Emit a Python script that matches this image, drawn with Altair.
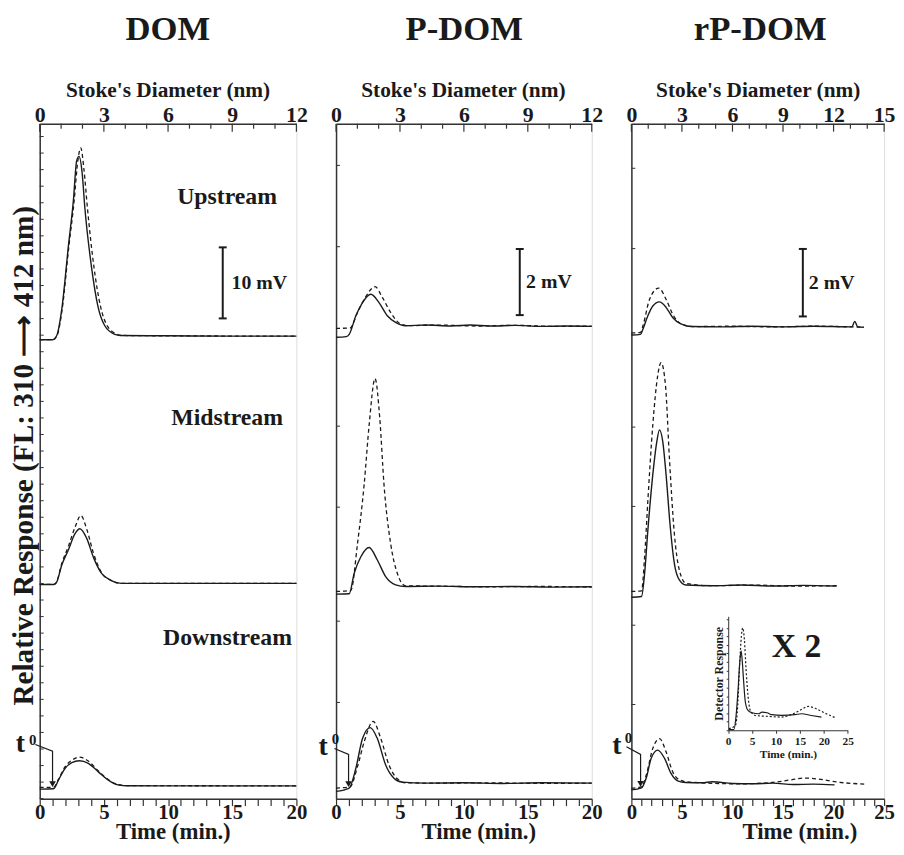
import altair as alt
import pandas as pd

FONT = "Liberation Serif"
INK = "#1a1a1a"
AXC = "#333333"
H = 681

# ---------------- data ----------------
PANEL_TITLES = ["DOM", "P-DOM", "rP-DOM"]
TIME_TICKS_20 = list(range(0, 21))
TIME_TICKS_25 = list(range(0, 26))
DIAM_TICKS_12 = list(range(0, 13))
DIAM_TICKS_15 = list(range(0, 16))
SITE_LABELS = ["Upstream", "Midstream", "Downstream"]
SITE_LABEL_POS = [(14.6, 84.7), (14.6, 53.6), (14.63, 22.6)]  # (time, mV) in DOM panel

# DOM (mV scale, panel y 0..95)
DOM_UP_SOLID = [(0, 64.6), (1.0, 64.6), (1.33, 65.2), (1.72, 68.9), (2.23, 77.7), (2.62, 84.1),
                (2.88, 89.8), (3.06, 90.4), (3.3, 88.2), (3.52, 83.1), (4.03, 74.9), (4.55, 69.2),
                (5.06, 66.6), (5.8, 65.4), (6.3, 65.2), (10, 65.15), (15, 65.1), (20, 65.1)]
DOM_UP_DASH = [(0, 64.6), (1.0, 64.6), (1.35, 65.2), (1.75, 68.9), (2.27, 77.7), (2.68, 84.1),
               (2.97, 89.8), (3.2, 91.6), (3.45, 88.5), (3.72, 83.1), (4.22, 74.9), (4.75, 69.2),
               (5.25, 66.6), (6.0, 65.4), (6.5, 65.2), (10, 65.15), (20, 65.1)]
DOM_MID_SOLID = [(0, 30.15), (1.1, 30.15), (1.3, 30.4), (1.72, 32.9), (2.23, 35.0), (2.75, 37.3),
                 (3.13, 38.0), (3.67, 36.6), (4.18, 34.0), (4.82, 31.7), (5.58, 30.7), (6.35, 30.3),
                 (12, 30.3), (20, 30.3)]
DOM_MID_DASH = [(0, 30.15), (1.1, 30.15), (1.3, 30.45), (1.72, 33.1), (2.23, 35.5), (2.75, 38.2),
                (3.21, 39.85), (3.67, 37.9), (4.18, 34.6), (4.82, 31.8), (5.58, 30.7), (6.35, 30.3),
                (20, 30.3)]
DOM_DOWN_SOLID = [(0, 1.35), (1.08, 1.4), (1.47, 2.65), (1.98, 4.28), (2.5, 5.07), (3.09, 5.34),
                  (3.78, 4.98), (4.55, 3.81), (5.32, 2.65), (6.09, 1.95), (6.86, 1.81), (12, 1.8),
                  (20, 1.8)]
DOM_DOWN_DASH = [(0, 1.58), (1.08, 1.6), (1.47, 2.75), (1.98, 4.5), (2.5, 5.4), (3.09, 5.86),
                 (3.78, 5.3), (4.55, 3.95), (5.32, 2.7), (6.09, 1.98), (6.86, 1.83), (12, 1.82),
                 (20, 1.8)]

# P-DOM (mV scale, panel y 0..20.4)
PDOM_UP_SOLID = [(0, 13.96), (0.8, 13.98), (1.03, 14.05), (1.55, 14.61), (2.07, 15.01), (2.72, 15.26),
                 (3.36, 15.01), (4.01, 14.61), (4.66, 14.41), (5.44, 14.31), (7, 14.33), (9, 14.3),
                 (10.5, 14.33), (12, 14.3), (14, 14.32), (16, 14.29), (18, 14.3), (20, 14.29)]
PDOM_UP_DASH = [(0, 14.23), (1.1, 14.24), (1.68, 14.71), (2.33, 15.19), (3.05, 15.49), (3.63, 15.16),
                (4.27, 14.71), (5.05, 14.36), (5.7, 14.31), (8, 14.33), (11, 14.3), (14, 14.32),
                (17, 14.29), (20, 14.3)]
PDOM_MID_SOLID = [(0, 6.19), (1.03, 6.2), (1.42, 6.82), (1.94, 7.32), (2.59, 7.6), (3.23, 7.22),
                  (3.88, 6.72), (4.66, 6.47), (5.44, 6.42), (8, 6.43), (11, 6.41), (14, 6.42),
                  (17, 6.4), (20, 6.41)]
PDOM_MID_DASH = [(0, 6.27), (1.16, 6.3), (1.68, 7.72), (2.2, 9.51), (2.59, 11.31), (3.05, 12.71),
                 (3.42, 11.51), (3.75, 9.51), (4.27, 7.72), (4.79, 6.82), (5.44, 6.44), (8, 6.43),
                 (12, 6.41), (16, 6.42), (20, 6.4)]
PDOM_DOWN_SOLID = [(0, 0.22), (1.03, 0.32), (1.55, 0.92), (2.07, 1.82), (2.67, 2.15), (3.23, 1.82),
                   (3.88, 1.02), (4.53, 0.62), (5.18, 0.5), (7, 0.47), (10, 0.48), (13, 0.46),
                   (16, 0.48), (20, 0.47)]
PDOM_DOWN_DASH = [(0, 0.32), (1.1, 0.36), (1.68, 0.97), (2.2, 1.72), (2.9, 2.34), (3.5, 1.82),
                  (4.14, 1.02), (4.79, 0.6), (5.44, 0.48), (8, 0.47), (12, 0.48), (16, 0.46),
                  (20, 0.47)]

# rP-DOM (mV scale, panel y 0..20)
RP_UP_SOLID = [(0, 13.74), (0.9, 13.76), (1.15, 13.92), (1.63, 14.31), (2.12, 14.6), (2.78, 14.72),
               (3.43, 14.56), (4.08, 14.26), (4.9, 14.07), (6.05, 13.99), (9, 13.98), (12, 14.0),
               (15, 13.98), (18, 14.0), (21.8, 13.98), (22.1, 14.14), (22.4, 13.98), (23, 13.97)]
RP_UP_DASH = [(0, 13.8), (0.9, 13.82), (1.15, 14.02), (1.8, 14.8), (2.7, 15.13), (3.43, 14.8),
              (4.08, 14.36), (4.9, 14.07), (6.05, 13.99), (10, 14.0), (14, 13.98), (18, 14.0),
              (23, 13.97)]
RP_MID_SOLID = [(0, 5.97), (1.0, 5.99), (1.31, 6.68), (1.63, 7.95), (2.12, 9.61), (2.52, 10.59),
                (2.78, 10.93), (3.1, 10.59), (3.43, 9.61), (3.82, 8.14), (4.25, 6.97), (4.74, 6.48),
                (5.39, 6.33), (8, 6.31), (11, 6.33), (14, 6.3), (17, 6.32), (20.3, 6.3)]
RP_MID_DASH = [(0, 6.14), (1.0, 6.16), (1.31, 7.17), (1.63, 8.83), (2.12, 11.08), (2.61, 12.55),
               (2.94, 12.92), (3.37, 12.26), (3.76, 10.1), (4.25, 7.85), (4.74, 6.78), (5.39, 6.38),
               (8, 6.31), (12, 6.33), (16, 6.3), (20.3, 6.31)]
RP_DOWN_SOLID = [(0, 0.26), (1.0, 0.32), (1.47, 0.61), (1.96, 1.2), (2.6, 1.44), (3.27, 1.2),
                 (3.92, 0.75), (4.58, 0.53), (5.39, 0.48), (7, 0.47), (8, 0.5), (10, 0.45),
                 (12, 0.44), (14, 0.46), (16, 0.42), (18, 0.43), (20.1, 0.41)]
RP_DOWN_DASH = [(0, 0.31), (1.0, 0.35), (1.47, 0.7), (2.12, 1.49), (2.78, 1.78), (3.43, 1.39),
                (4.08, 0.8), (4.74, 0.56), (5.72, 0.49), (10.6, 0.44), (13.9, 0.48), (15.85, 0.56),
                (17.16, 0.61), (18.46, 0.58), (20.42, 0.49), (23.04, 0.43)]

# inset of rP-DOM downstream (x2), arbitrary detector units 0..10
INSET_SOLID = [(0.13, 0.06), (1.17, 0.06), (1.65, 1.3), (2.07, 3.62), (2.41, 5.94), (2.69, 6.96),
               (2.96, 5.94), (3.24, 4.2), (3.59, 2.46), (4.14, 1.74), (4.98, 1.54), (6.36, 1.45),
               (7.05, 1.59), (8.1, 1.54), (9.13, 1.37), (11.2, 1.3), (13.95, 1.37), (15.33, 1.45),
               (17.4, 1.3), (19.5, 1.16)]
INSET_DOT = [(0.13, 0.14), (1.51, 0.43), (1.99, 2.17), (2.41, 5.94), (2.76, 8.26), (3.03, 8.98),
             (3.38, 7.97), (3.73, 5.37), (4.14, 3.04), (4.62, 1.74), (5.66, 1.3), (8.42, 1.22),
             (11.2, 1.16), (13.27, 1.39), (14.99, 1.74), (16.7, 2.09), (18.45, 1.88), (20.52, 1.45),
             (22.6, 1.07)]
INSET_TIME_TICKS = [0, 5, 10, 15, 20, 25]
INSET_Y_TICKS = [0, 0.75, 1.5, 2.25, 3, 3.75, 4.5, 5.25, 6, 6.75, 7.5, 8.25, 9, 9.75]

# y-axis minor ticks (mV) for P-DOM and rP-DOM panels
PDOM_YTICKS = [2.91, 5.37, 8.82, 11.27, 16.7, 19.16]
RP_YTICKS = [2.79, 5.14, 8.66, 11.01, 16.3, 18.68]

# scale bars: (time, bottom mV, top mV, label)
DOM_BAR = (14.26, 67.6, 77.6, "10 mV")
PDOM_BAR = (14.37, 14.63, 16.63, "2 mV")
RP_BAR = (16.96, 14.29, 16.29, "2 mV")

# t0 markers: t-letter pos, superscript pos, leader path, arrow tip (time, mV)
DOM_T0 = dict(t=(-1.5, 7.75), sup=(-0.55, 8.3), path=[(-0.34, 7.63), (1.0, 6.69), (1.0, 2.3)], head=(1.0, 2.05))
PDOM_T0 = dict(t=(-1.01, 1.56), sup=(-0.05, 1.8), path=[(-0.13, 1.52), (0.98, 1.34), (0.98, 0.5)], head=(0.98, 0.44))
RP_T0 = dict(t=(-1.44, 1.56), sup=(-0.3, 1.8), path=[(-0.49, 1.54), (0.91, 1.31), (0.91, 0.5)], head=(0.91, 0.44))

YTITLE = "Relative Response (FL: 310 \u27f6 412 nm)"


def trace_df(pairs, name, style):
    return pd.DataFrame({"t": [p[0] for p in pairs], "v": [p[1] for p in pairs],
                         "trace": name, "style": style})


def txt(**kw):
    base = dict(font=FONT, fontWeight="bold", color=INK)
    base.update(kw)
    return base


def build_panel(p):
    W = p["width"]
    xscale = alt.Scale(domain=[0, p["xmax"]], nice=False, zero=False)
    yscale = alt.Scale(domain=[0, p["ymax"]], nice=False, zero=False)
    xaxis = alt.Axis(orient="bottom", values=p["xticks"],
                     labelExpr="datum.value % 5 === 0 ? datum.label : ''",
                     tickSize=7, tickWidth=1.2, tickColor=AXC, domainColor=AXC, domainWidth=1.5,
                     labelFont=FONT, labelFontSize=21, labelFontWeight="bold", labelColor=INK,
                     labelBaseline="alphabetic", labelPadding=13, labelFlush=False,
                     labelOverlap=False, grid=False, title=None)
    yaxis = alt.Axis(orient="left", ticks=False, labels=False, domainColor=AXC, domainWidth=1.5,
                     grid=False, title=None)
    X = alt.X("t:Q", scale=xscale, axis=xaxis)
    Y = alt.Y("v:Q", scale=yscale, axis=yaxis)

    df = pd.concat([trace_df(pairs, name, style) for pairs, name, style in p["traces"]])
    solid = alt.Chart(df).transform_filter("datum.style === 'solid'").mark_line(
        color=INK, strokeWidth=1.4, interpolate="monotone").encode(x=X, y=Y, detail="trace:N")
    dashed = alt.Chart(df).transform_filter("datum.style === 'dashed'").mark_line(
        color=INK, strokeWidth=1.3, strokeDash=[4, 3], interpolate="monotone").encode(
        x=X, y=Y, detail="trace:N")

    if p["yticks"] is None:
        ytick_data = alt.sequence(0, p["ymax"], 2.33, as_="v")
    else:
        ytick_data = pd.DataFrame({"v": p["yticks"]})
    yticks = alt.Chart(ytick_data).mark_rule(color=AXC, strokeWidth=1).encode(
        y=Y, x=alt.value(0), x2=alt.value(4))

    bt, b0, b1, blab = p["bar"]
    bar_df = pd.DataFrame({"t": [bt], "v": [b0], "v2": [b1]})
    bar = alt.Chart(bar_df).mark_rule(color=INK, strokeWidth=2).encode(x=X, y=Y, y2="v2:Q")
    caps_df = pd.DataFrame({"t": [bt, bt], "v": [b0, b1]})
    caps = alt.Chart(caps_df).mark_rule(color=INK, strokeWidth=2, xOffset=-4, x2Offset=4).encode(
        x=X, x2="t:Q", y=Y)
    barlab = alt.Chart(pd.DataFrame({"t": [bt + p["barlab_dx"]], "v": [(b0 + b1) / 2], "s": [blab]})).mark_text(
        **txt(fontSize=20, align="left", baseline="middle")).encode(x=X, y=Y, text="s:N")

    t0 = p["t0"]
    t_letter = alt.Chart(pd.DataFrame({"t": [t0["t"][0]], "v": [t0["t"][1]], "s": ["t"]})).mark_text(
        **txt(fontSize=28, align="center", baseline="middle")).encode(x=X, y=Y, text="s:N")
    t_sup = alt.Chart(pd.DataFrame({"t": [t0["sup"][0]], "v": [t0["sup"][1]], "s": ["0"]})).mark_text(
        **txt(fontSize=15, align="center", baseline="middle")).encode(x=X, y=Y, text="s:N")
    path_df = pd.DataFrame({"t": [q[0] for q in t0["path"]], "v": [q[1] for q in t0["path"]],
                            "k": list(range(len(t0["path"])))})
    t_path = alt.Chart(path_df).mark_line(color=INK, strokeWidth=1.2).encode(x=X, y=Y, order="k:Q")
    t_head = alt.Chart(pd.DataFrame({"t": [t0["head"][0]], "v": [t0["head"][1]]})).mark_point(
        shape="triangle-down", filled=True, color=INK, size=45, opacity=1).encode(x=X, y=Y)

    title = alt.Chart(pd.DataFrame({"s": [p["title"]]})).mark_text(
        **txt(fontSize=35, align="center", baseline="middle")).encode(
        x=alt.value(p["title_x"]), y=alt.value(-96), text="s:N")
    stokes = alt.Chart(pd.DataFrame({"s": ["Stoke's Diameter (nm)"]})).mark_text(
        **txt(fontSize=21.5, align="center", baseline="alphabetic")).encode(
        x=alt.value(p["stokes_x"]), y=alt.value(-27), text="s:N")
    timet = alt.Chart(pd.DataFrame({"s": ["Time (min.)"]})).mark_text(
        **txt(fontSize=23, align="center", baseline="alphabetic")).encode(
        x=alt.value(p["time_x"]), y=alt.value(H + 41), text="s:N")

    layers = [solid, dashed, yticks, bar, caps, barlab, t_path, t_head, t_letter, t_sup,
              title, stokes, timet]

    if p.get("site_labels"):
        sl = pd.DataFrame({"t": [q[0] for q in SITE_LABEL_POS], "v": [q[1] for q in SITE_LABEL_POS],
                           "s": SITE_LABELS})
        layers.append(alt.Chart(sl).mark_text(**txt(fontSize=24, align="center", baseline="middle")).encode(
            x=X, y=Y, text="s:N"))
        layers.append(alt.Chart(pd.DataFrame({"s": [YTITLE]})).mark_text(
            **txt(fontSize=29.5, align="center", baseline="middle", angle=270)).encode(
            x=alt.value(-16), y=alt.value(335), text="s:N"))

    if p.get("x2"):
        layers.append(alt.Chart(pd.DataFrame({"t": [16.34], "v": [4.48], "s": ["X 2"]})).mark_text(
            **txt(fontSize=34, align="center", baseline="middle")).encode(x=X, y=Y, text="s:N"))

    main = alt.layer(*layers)

    # top (Stoke's diameter) axis
    dscale = alt.Scale(domain=[0, p["dmax"]], nice=False, zero=False)
    daxis = alt.Axis(orient="top", values=[d for d in p["dticks"] if d % 3 == 0], ticks=False, tickSize=0,
                     labelFont=FONT, labelFontSize=22, labelFontWeight="bold", labelColor=INK,
                     labelBaseline="alphabetic", labelPadding=2, labelFlush=False, labelOverlap=False,
                     domainColor=AXC, domainWidth=1.5, grid=False, title=None)
    ddf = pd.DataFrame({"d": p["dticks"]})
    DX = alt.X("d:Q", scale=dscale, axis=daxis)
    major = alt.Chart(ddf).transform_filter("datum.d % 3 === 0").mark_rule(color=AXC, strokeWidth=1.2).encode(
        x=DX, y=alt.value(0), y2=alt.value(8))
    minor = alt.Chart(ddf).transform_filter("datum.d % 3 !== 0").mark_rule(color=AXC, strokeWidth=1.2).encode(
        x=DX, y=alt.value(0), y2=alt.value(5))
    top = alt.layer(major, minor)

    parts = [main, top]
    if p.get("inset"):
        ix = alt.X("t:Q", scale=alt.Scale(domain=[0, 25], range=[97.7, 218.3], nice=False, zero=False),
                   axis=alt.Axis(orient="bottom", offset=-69, values=INSET_TIME_TICKS, tickSize=3,
                                 tickColor=AXC, domainColor=AXC, domainWidth=1, labelFont=FONT,
                                 labelFontSize=11.5, labelFontWeight="bold", labelColor=INK,
                                 labelPadding=2, labelFlush=False, grid=False, title="Time (min.)",
                                 titleFont=FONT, titleFontSize=11.5, titleFontWeight="bold",
                                 titleColor=INK, titlePadding=2))
        iy = alt.Y("v:Q", scale=alt.Scale(domain=[0, 10], range=[612, 497], nice=False, zero=False),
                   axis=alt.Axis(orient="left", offset=-97.7, values=INSET_Y_TICKS, labels=False,
                                 tickSize=2, tickColor=AXC, domainColor=AXC, domainWidth=1, grid=False,
                                 title="Detector Response", titleFont=FONT, titleFontSize=12,
                                 titleFontWeight="bold", titleColor=INK, titlePadding=0))
        ins = pd.concat([trace_df(INSET_SOLID, "s", "solid"), trace_df(INSET_DOT, "d", "dotted")])
        in_s = alt.Chart(ins).transform_filter("datum.style === 'solid'").mark_line(
            color=INK, strokeWidth=1.2, interpolate="monotone").encode(x=ix, y=iy)
        in_d = alt.Chart(ins).transform_filter("datum.style === 'dotted'").mark_line(
            color=INK, strokeWidth=1.2, strokeDash=[2, 2], interpolate="monotone").encode(x=ix, y=iy)
        parts.append(alt.layer(in_s, in_d))
        panel = alt.layer(*parts).resolve_scale(x="independent", y="independent")
    else:
        panel = alt.layer(*parts).resolve_scale(x="independent")
    return panel.properties(width=W, height=H)


panels = [
    dict(title=PANEL_TITLES[0], width=259, xmax=20, xticks=TIME_TICKS_20, dmax=12, dticks=DIAM_TICKS_12,
         ymax=95, yticks=None, bar=DOM_BAR, barlab_dx=0.69, t0=DOM_T0, site_labels=True,
         traces=[(DOM_UP_SOLID, "up", "solid"), (DOM_UP_DASH, "up_d", "dashed"),
                 (DOM_MID_SOLID, "mid", "solid"), (DOM_MID_DASH, "mid_d", "dashed"),
                 (DOM_DOWN_SOLID, "down", "solid"), (DOM_DOWN_DASH, "down_d", "dashed")],
         title_x=129.3, stokes_x=129.5, time_x=134.8),
    dict(title=PANEL_TITLES[1], width=258, xmax=20, xticks=TIME_TICKS_20, dmax=12, dticks=DIAM_TICKS_12,
         ymax=20.42, yticks=PDOM_YTICKS, bar=PDOM_BAR, barlab_dx=0.49, t0=PDOM_T0,
         traces=[(PDOM_UP_SOLID, "up", "solid"), (PDOM_UP_DASH, "up_d", "dashed"),
                 (PDOM_MID_SOLID, "mid", "solid"), (PDOM_MID_DASH, "mid_d", "dashed"),
                 (PDOM_DOWN_SOLID, "down", "solid"), (PDOM_DOWN_DASH, "down_d", "dashed")],
         title_x=129.3, stokes_x=128.5, time_x=144),
    dict(title=PANEL_TITLES[2], width=255, xmax=25, xticks=TIME_TICKS_25, dmax=15, dticks=DIAM_TICKS_15,
         ymax=20.0, yticks=RP_YTICKS, bar=RP_BAR, barlab_dx=0.59, t0=RP_T0, inset=True, x2=True,
         traces=[(RP_UP_SOLID, "up", "solid"), (RP_UP_DASH, "up_d", "dashed"),
                 (RP_MID_SOLID, "mid", "solid"), (RP_MID_DASH, "mid_d", "dashed"),
                 (RP_DOWN_SOLID, "down", "solid"), (RP_DOWN_DASH, "down_d", "dashed")],
         title_x=130, stokes_x=128, time_x=170),
]

chart = alt.hconcat(*[build_panel(p) for p in panels], spacing=40, bounds="flush").properties(
    padding={"left": 0, "top": -1, "right": 0, "bottom": 0}
).configure_view(stroke=None).configure(background="white")

chart.save("out.html", embed_options={"renderer": "svg", "actions": False})
